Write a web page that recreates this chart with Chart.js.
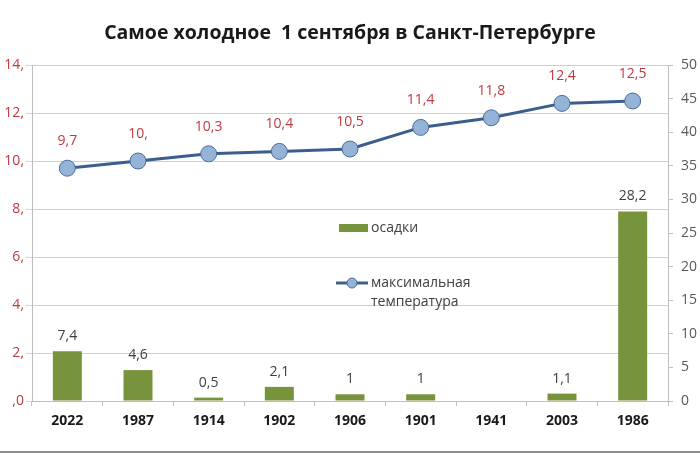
<!DOCTYPE html>
<html>
<head>
<meta charset="utf-8">
<script src="https://cdn.jsdelivr.net/npm/chart.js@4.4.0/dist/chart.umd.min.js"></script>
<style>
  html, body { margin: 0; padding: 0; background: #fff; }
  #wrap { position: relative; width: 700px; height: 454px; }
  #frame { position: absolute; left: 0; top: 451px; width: 700px; height: 2px; background: #8c8c8c; }
</style>
</head>
<body>
<div id="wrap">
  <canvas id="coldChart" width="700" height="454"></canvas>
  <div id="frame"></div>
</div>
<script>
const years = ['2022', '1987', '1914', '1902', '1906', '1901', '1941', '2003', '1986'];
const maxTemp = [9.7, 10, 10.3, 10.4, 10.5, 11.4, 11.8, 12.4, 12.5];
const rainfall = [7.4, 4.6, 0.5, 2.1, 1, 1, 0, 1.1, 28.2];
const tempTicks = [0, 2, 4, 6, 8, 10, 12, 14];
const rainTicks = [0, 5, 10, 15, 20, 25, 30, 35, 40, 45, 50];

const FONT = '"Open Sans", "DejaVu Sans", sans-serif';
const RED = '#C0393F';

// excel-ish number formats
function fmtTemp(v) {
  return Number.isInteger(v) ? (v === 0 ? ',0' : v + ',') : String(v).replace('.', ',');
}
function fmtRain(v) {
  return String(v).replace('.', ',');
}

const valueLabels = {
  id: 'valueLabels',
  afterDatasetsDraw(chart) {
    const ctx = chart.ctx;
    ctx.save();
    ctx.font = '14px ' + FONT;
    ctx.textAlign = 'center';
    ctx.textBaseline = 'middle';
    chart.data.datasets.forEach((ds, i) => {
      const meta = chart.getDatasetMeta(i);
      meta.data.forEach((el, j) => {
        const v = ds.data[j];
        if (!v) return;
        if (ds.type === 'line') {
          ctx.fillStyle = RED;
          ctx.fillText(fmtTemp(v), el.x, el.y - 27);
        } else {
          ctx.fillStyle = '#404040';
          ctx.fillText(fmtRain(v), el.x, el.y - 15);
        }
      });
    });
    ctx.restore();
  }
};

// legend sits inside the plot in the original
const innerLegend = {
  id: 'innerLegend',
  afterDraw(chart) {
    const ctx = chart.ctx;
    ctx.save();
    ctx.font = '14px ' + FONT;
    ctx.textBaseline = 'middle';
    ctx.textAlign = 'left';
    ctx.fillStyle = '#77933C';
    ctx.fillRect(339, 224, 29, 8);
    ctx.fillStyle = '#404040';
    ctx.fillText('осадки', 371, 228);

    ctx.strokeStyle = '#3B5E8C';
    ctx.lineWidth = 3;
    ctx.beginPath();
    ctx.moveTo(336, 283);
    ctx.lineTo(368, 283);
    ctx.stroke();
    ctx.beginPath();
    ctx.arc(352, 283, 5, 0, Math.PI * 2);
    ctx.fillStyle = '#95B3D7';
    ctx.fill();
    ctx.lineWidth = 1;
    ctx.strokeStyle = '#4A6D9A';
    ctx.stroke();
    ctx.fillStyle = '#404040';
    ctx.fillText('максимальная', 371, 283);
    ctx.fillText('температура', 371, 302);
    ctx.restore();
  }
};

new Chart(document.getElementById('coldChart'), {
  data: {
    labels: years,
    datasets: [
      {
        type: 'line',
        label: 'максимальная температура',
        data: maxTemp,
        yAxisID: 'yTemp',
        borderColor: '#3B5E8C',
        borderWidth: 3,
        pointRadius: 8,
        pointBackgroundColor: '#95B3D7',
        pointBorderColor: '#4A6D9A',
        pointBorderWidth: 1,
        tension: 0,
        order: 0
      },
      {
        type: 'bar',
        label: 'осадки',
        data: rainfall,
        yAxisID: 'yRain',
        backgroundColor: '#77933C',
        categoryPercentage: 1,
        barPercentage: 0.41,
        order: 1
      }
    ]
  },
  options: {
    responsive: false,
    animation: false,
    devicePixelRatio: 1,
    plugins: {
      legend: { display: false },
      tooltip: { enabled: false },
      title: {
        display: true,
        text: 'Самое холодное  1 сентября в Санкт-Петербурге',
        color: '#1a1a1a',
        font: { family: FONT, size: 19.5, weight: 'bold' },
        lineHeight: 1.2,
        padding: { top: 22, bottom: 19.6 }
      }
    },
    scales: {
      x: {
        grid: { drawOnChartArea: false, color: '#bfbfbf', tickLength: 5, offset: true },
        border: { color: '#bfbfbf' },
        ticks: { color: '#1a1a1a', font: { family: FONT, size: 14, weight: 'bold' }, padding: 7 },
        afterFit(scale) { scale.height = 53; }
      },
      yTemp: {
        position: 'left',
        min: 0,
        max: 14,
        afterBuildTicks(scale) { scale.ticks = tempTicks.map(v => ({ value: v })); },
        grid: { color: '#d0d0d0', tickLength: 6 },
        border: { color: '#bfbfbf' },
        ticks: {
          color: RED,
          font: { family: FONT, size: 14 },
          padding: 2,
          callback: v => fmtTemp(v)
        },
        afterFit(scale) { scale.width = 32; }
      },
      yRain: {
        position: 'right',
        min: 0,
        max: 50,
        afterBuildTicks(scale) { scale.ticks = rainTicks.map(v => ({ value: v })); },
        grid: { drawOnChartArea: false, color: '#bfbfbf', tickLength: 5 },
        border: { color: '#bfbfbf' },
        ticks: { color: '#595959', font: { family: FONT, size: 14 }, padding: 8 },
        afterFit(scale) { scale.width = 32; }
      }
    }
  },
  plugins: [valueLabels, innerLegend]
});
</script>
</body>
</html>
